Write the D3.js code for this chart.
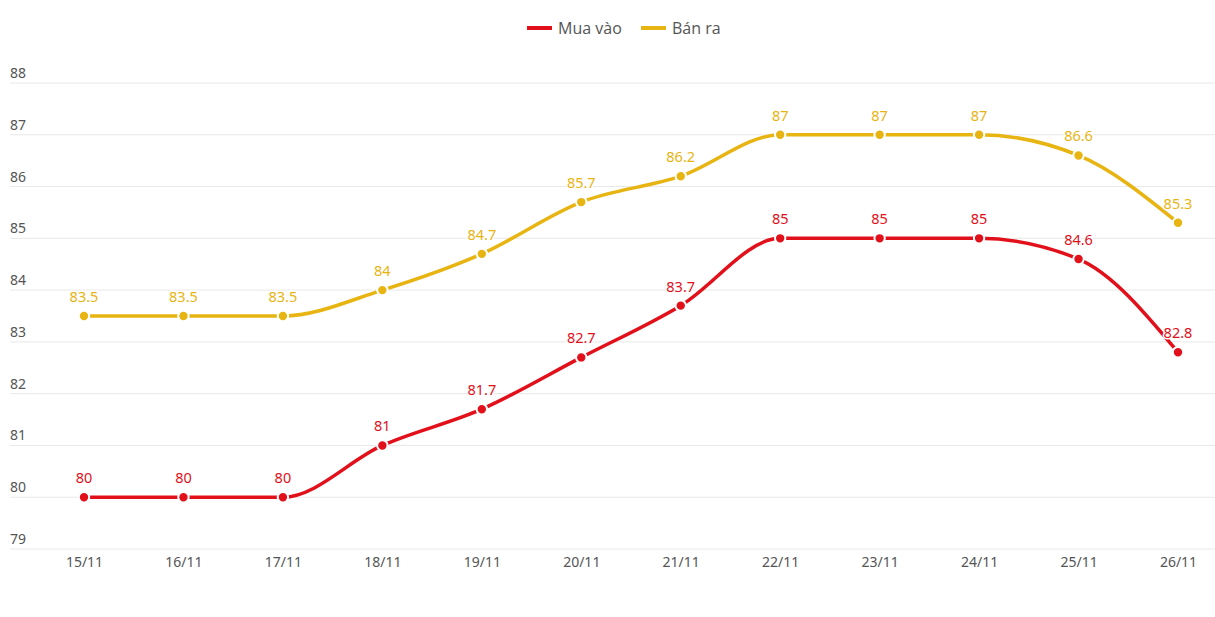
<!DOCTYPE html>
<html><head><meta charset="utf-8">
<script src="https://cdn.jsdelivr.net/npm/d3@7"></script>
<style>body{margin:0;background:#fff;}svg{display:block;}</style>
</head><body><svg id="c" width="1215" height="617"></svg>
<script>
const categories = ["15/11","16/11","17/11","18/11","19/11","20/11","21/11","22/11","23/11","24/11","25/11","26/11"];
const muaVao = [80,80,80,81,81.7,82.7,83.7,85,85,85,84.6,82.8];
const banRa = [83.5,83.5,83.5,84,84.7,85.7,86.2,87,87,87,86.6,85.3];
const yTicks = [79,80,81,82,83,84,85,86,87,88];
const seriesNames = ["Mua vào","Bán ra"];
const colors = ["#e2101a","#e8b412"];

const svg = d3.select("#c");
const x = d3.scalePoint().domain(categories).range([84,1178]);
const y = d3.scaleLinear().domain([79,88]).range([549,83]);

// grid
const g = svg.append("g");
g.selectAll("line.grid").data(yTicks).join("line")
  .attr("x1",10).attr("x2",1215)
  .attr("y1",d=>y(d)).attr("y2",d=>y(d))
  .attr("stroke","#e8e8e8").attr("stroke-width",1);
g.selectAll("text.yl").data(yTicks).join("text")
  .attr("x",10).attr("y",d=>y(d)-5)
  .attr("font-family","'Noto Sans', sans-serif").attr("font-size",14)
  .attr("fill","#555").text(d=>d);

// x axis labels
const xAxis = d3.axisBottom(x).tickSize(0).tickPadding(0);
const xa = svg.append("g").attr("transform","translate(0,557)").call(xAxis);
xa.select(".domain").remove();
xa.selectAll("text").attr("font-family","'Noto Sans', sans-serif").attr("font-size",14).attr("fill","#555").attr("dy","0.71em");

const line = d3.line().x((d,i)=>x(categories[i])).y(d=>y(d)).curve(d3.curveMonotoneX);
const allSeries = [muaVao, banRa];
allSeries.forEach((vals,si)=>{
  const sg = svg.append("g");
  sg.append("path").datum(vals).attr("d",line).attr("fill","none")
    .attr("stroke",colors[si]).attr("stroke-width",3.5);
  sg.selectAll("circle").data(vals).join("circle")
    .attr("cx",(d,i)=>x(categories[i])).attr("cy",d=>y(d)).attr("r",5.2)
    .attr("fill",colors[si]).attr("stroke","#fff").attr("stroke-width",2);
  sg.selectAll("text").data(vals).join("text")
    .attr("x",(d,i)=>x(categories[i])).attr("y",d=>y(d)-14)
    .attr("text-anchor","middle").attr("font-family","'Noto Sans', sans-serif")
    .attr("font-size",14.5).attr("fill",colors[si])
    .attr("paint-order","stroke").attr("stroke","#fff").attr("stroke-width",3)
    .text(d=>d);
});

// legend
const leg = svg.append("g");
const legItems = [{x:527,name:seriesNames[0],c:colors[0]},{x:641,name:seriesNames[1],c:colors[1]}];
legItems.forEach(it=>{
  leg.append("line").attr("x1",it.x).attr("x2",it.x+25).attr("y1",28).attr("y2",28)
    .attr("stroke",it.c).attr("stroke-width",4);
  leg.append("text").attr("x",it.x+31).attr("y",33.5)
    .attr("font-family","'Open Sans', sans-serif").attr("font-size",16).attr("fill","#555").text(it.name);
});
</script></body></html>
